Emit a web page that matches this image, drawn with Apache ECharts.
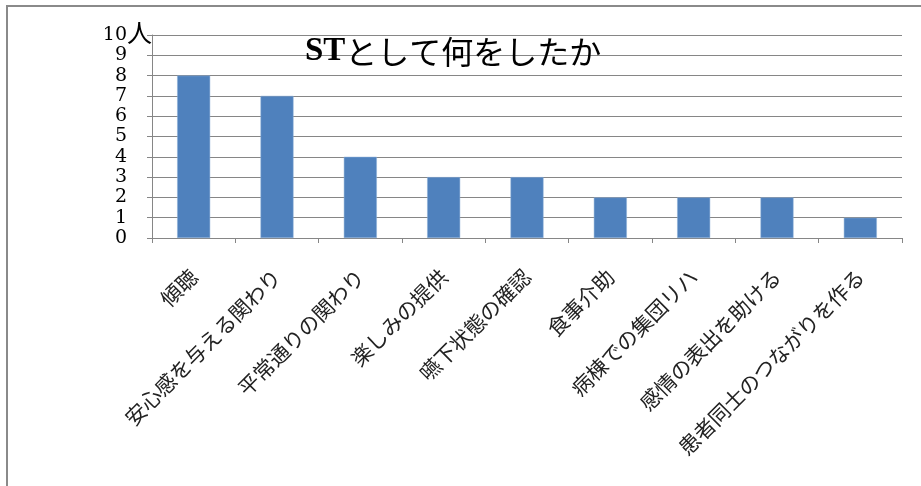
<!DOCTYPE html>
<html>
<head>
<meta charset="utf-8">
<script src="https://cdn.jsdelivr.net/npm/echarts@6/dist/echarts.min.js"></script>
<style>
html,body{margin:0;padding:0;background:#fff;}
#chart{width:921px;height:486px;}
</style>
</head>
<body>
<div id="chart"></div>
<script>
const titleLatin = 'ST';
const titleRest = 'として何をしたか';
const categories = ['傾聴','安心感を与える関わり','平常通りの関わり','楽しみの提供','嚥下状態の確認','食事介助','病棟での集団リハ','感情の表出を助ける','患者同士のつながりを作る'];
const values = [8, 7, 4, 3, 3, 2, 2, 2, 1];
const yUnit = '人';
const yMin = 0, yMax = 10, yStep = 1;

const serif = '"Liberation Serif", "Noto Sans CJK JP", serif';
const digitFont = '"DejaVu Serif", "Liberation Serif", serif';
const chart = echarts.init(document.getElementById('chart'), null, {renderer:'canvas'});
chart.setOption({
  animation: false,
  backgroundColor: '#ffffff',
  title: {
    text: '{a|' + titleLatin + '}{b|' + titleRest + '}',
    left: 300, top: 30,
    textStyle: {
      rich: {
        a: {fontFamily: '"Liberation Serif", serif', fontSize: 33, fontWeight: 'bold', color: '#000'},
        b: {fontFamily: '"Noto Sans CJK JP", sans-serif', fontSize: 32, fontWeight: 'normal', color: '#000'}
      }
    }
  },
  graphic: [{
    type: 'rect', silent: true, z: -10,
    shape: {x: 7, y: 6, width: 1200, height: 1200},
    style: {fill: 'none', stroke: '#8a8a8a', lineWidth: 2}
  }],
  grid: {left: 152, right: 19, top: 35, bottom: 248, containLabel: false},
  xAxis: {
    type: 'category',
    data: categories,
    axisLine: {lineStyle: {color: '#868686', width: 1}},
    axisTick: {show: true, length: 5, lineStyle: {color: '#868686'}},
    axisLabel: {interval: 0, rotate: 45, margin: 35, fontSize: 21, color: '#222', fontFamily: '"Noto Sans CJK JP", sans-serif'}
  },
  yAxis: {
    type: 'value',
    min: yMin, max: yMax, interval: yStep,
    name: yUnit,
    nameLocation: 'end',
    nameGap: 0,
    nameMoveOverlap: false,
    nameTextStyle: {fontFamily: serif, fontSize: 25, color: '#000', align: 'right', verticalAlign: 'middle', padding: [0, 0, 2, 0]},
    axisLine: {show: true, lineStyle: {color: '#868686', width: 1}},
    axisTick: {show: true, length: 5, lineStyle: {color: '#868686'}},
    splitLine: {show: true, lineStyle: {color: '#868686', width: 1}},
    axisLabel: {margin: 25, fontSize: 19, color: '#000', fontFamily: digitFont, padding: [0, 0, 9, 0], showMinLabel: true, showMaxLabel: true, hideOverlap: false}
  },
  series: [{
    type: 'bar',
    data: values,
    barWidth: 33,
    itemStyle: {color: '#4F81BD', borderColor: '#8fb0d8', borderWidth: 0.5}
  }]
});
</script>
</body>
</html>
